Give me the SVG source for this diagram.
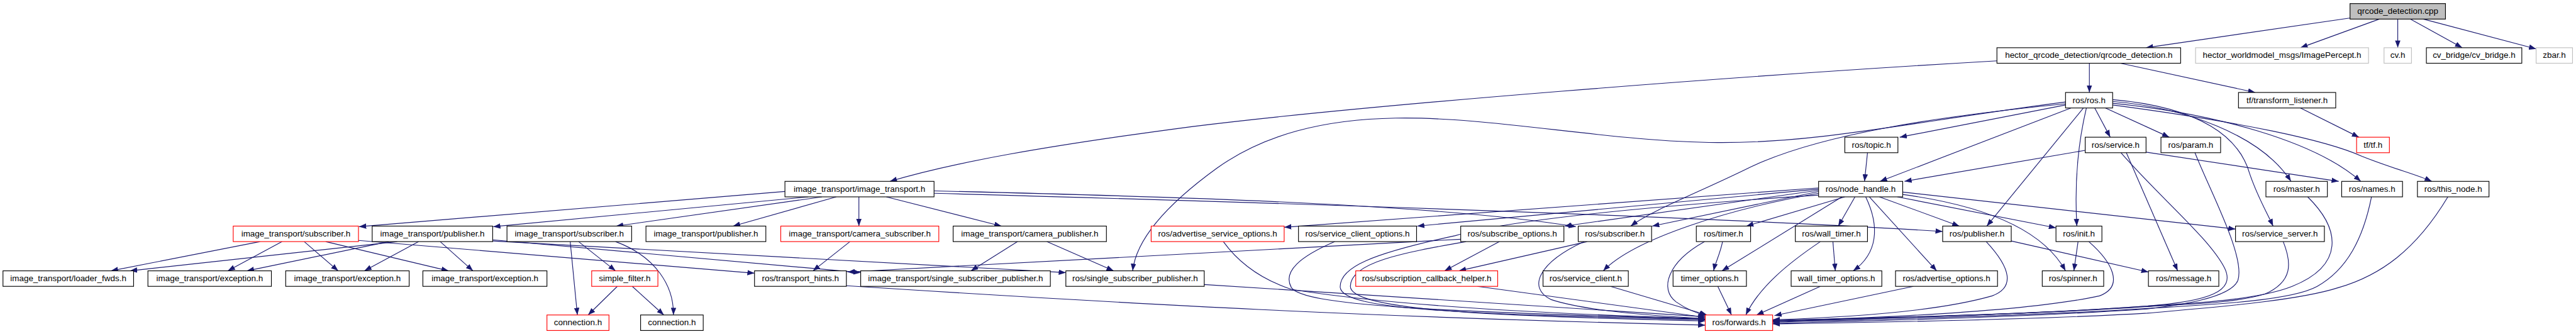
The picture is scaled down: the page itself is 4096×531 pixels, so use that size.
<svg xmlns="http://www.w3.org/2000/svg" width="4096" height="531" viewBox="0 0 4096 531">
<style>
.n rect{fill:#fff;stroke:#000;stroke-width:1.2}
.n.g rect{stroke:#bfbfbf}
.n.r rect{stroke:#f00}
.n.root rect{fill:#bfbfbf}
.n text{font-family:"Liberation Sans",Arial,sans-serif;font-size:14.2px;text-anchor:middle;fill:#000}
.e path{fill:none;stroke:#191970;stroke-width:1.2;marker-end:url(#a)}
</style>
<defs>
<marker id="a" markerWidth="12" markerHeight="9" refX="12" refY="4.5" orient="auto" markerUnits="userSpaceOnUse"><path d="M0,0 L12,4.5 L0,9 z" fill="#191970" stroke="none"/></marker>
</defs>
<rect width="4096" height="531" fill="#fff"/>
<g transform="scale(0.9484)">
<g id="edges" class="e">
<path d="M3941,30 L3598,80"/>
<path d="M3989,32 L3857,80"/>
<path d="M4020,32 L4020,80"/>
<path d="M4041,32 L4128,80"/>
<path d="M4063,32 L4252,82"/>
<path d="M3503,106 L3503,155"/>
<path d="M3555,106 L3781,155"/>
<path d="M3348,102 C2900,128 2300,175 2000,212 C1750,245 1600,272 1492,304"/>
<path d="M3857,181 L3955,230"/>
<path d="M3463,176 L3185,230"/>
<path d="M3512,181 L3538,230"/>
<path d="M3530,181 L3637,230"/>
<path d="M3472,181 L3152,304"/>
<path d="M3493,181 L3331,379"/>
<path d="M3498,181 C3484,240 3478,310 3482,379"/>
<path d="M3463,174 C3250,195 3050,225 2935,280 C2850,322 2770,352 2734,379"/>
<path d="M3463,171 C3200,205 3050,240 2880,239 C2700,238 2500,195 2340,198 C2220,200 2120,225 2040,282 C1960,340 1905,400 1899,454"/>
<path d="M3542,170 C3660,180 3790,225 3841,304"/>
<path d="M3542,173 C3710,190 3880,235 3958,304"/>
<path d="M3542,176 C3760,205 3900,235 3960,262 C4010,282 4050,292 4077,304"/>
<path d="M3542,167 C3690,180 3755,230 3772,292 C3785,330 3800,355 3811,379"/>
<path d="M3131,256 L3126,304"/>
<path d="M3496,252 L3193,304"/>
<path d="M3598,255 L3921,304"/>
<path d="M3565,256 L3651,454"/>
<path d="M3556,256 C3620,330 3705,400 3730,450 C3748,488 3705,505 3600,513 C3400,528 3100,535 2972,539"/>
<path d="M3680,256 C3705,320 3765,430 3752,470 C3740,500 3650,512 3600,518 C3400,532 3100,539 2972,542"/>
<path d="M3869,330 C3925,385 3930,445 3843,480 C3780,505 3650,510 3600,513 C3400,528 3100,535 2972,538"/>
<path d="M3976,330 C3962,400 3935,452 3885,480 C3840,505 3700,511 3600,517 C3400,530 3100,537 2972,540"/>
<path d="M4104,330 C4050,420 3990,462 3921,482 C3850,505 3700,516 3600,525 C3400,537 3100,541 2972,543"/>
<path d="M3828,405 C3842,440 3845,472 3797,493 C3740,510 3650,510 3600,514 C3400,528 3100,534 2972,537"/>
<path d="M3151,330 L3285,379"/>
<path d="M3181,330 L3447,382"/>
<path d="M3190,326 C3330,345 3425,385 3463,454"/>
<path d="M3190,322 L3748,384"/>
<path d="M3110,330 L3082,379"/>
<path d="M3093,330 L2928,379"/>
<path d="M3088,330 L2887,454"/>
<path d="M3128,330 C3152,380 3148,425 3107,454"/>
<path d="M3134,330 L3247,454"/>
<path d="M3049,315 L2153,381"/>
<path d="M3049,317 L2376,379"/>
<path d="M3049,319 L2623,379"/>
<path d="M3049,321 L2770,379"/>
<path d="M3049,324 C2900,350 2740,400 2688,454"/>
<path d="M3049,327 C2700,350 2520,372 2440,395 C2300,425 2245,448 2247,482 C2252,520 2450,526 2859,536"/>
<path d="M3330,405 C3372,450 3378,482 3340,496 C3250,522 3100,532 2972,536"/>
<path d="M3372,404 L3602,456"/>
<path d="M3484,405 L3477,454"/>
<path d="M3502,405 C3542,440 3562,480 3520,496 C3400,522 3150,533 2972,538"/>
<path d="M2888,405 C2884,425 2876,440 2873,454"/>
<path d="M2858,405 C2795,440 2782,485 2810,506 C2830,520 2848,526 2861,529"/>
<path d="M2880,480 L2903,528"/>
<path d="M3073,405 L3077,454"/>
<path d="M3052,405 C3000,440 2950,480 2927,528"/>
<path d="M3052,480 L2945,528"/>
<path d="M3208,480 L2975,529"/>
<path d="M2700,480 L2862,528"/>
<path d="M2477,480 L2859,532"/>
<path d="M2661,405 L2446,454"/>
<path d="M2514,405 L2422,454"/>
<path d="M2656,405 C2580,440 2560,482 2600,502 C2660,522 2780,530 2859,534"/>
<path d="M2458,405 C2350,424 2264,440 2264,480 C2264,520 2500,530 2859,538"/>
<path d="M2449,401 L1421,456"/>
<path d="M2238,405 C2180,430 2150,455 2165,482 C2185,512 2400,522 2859,535"/>
<path d="M2051,405 C2080,445 2120,470 2165,485 C2350,515 2650,528 2859,534"/>
<path d="M2019,477 L2859,531"/>
<path d="M1419,479 C1900,510 2300,532 2859,545"/>
<path d="M1706,405 L1628,454"/>
<path d="M1755,405 L1867,454"/>
<path d="M1425,405 L1363,454"/>
<path d="M1440,330 L1440,379"/>
<path d="M1486,330 L1679,379"/>
<path d="M1316,321 L602,380"/>
<path d="M1355,330 L827,380"/>
<path d="M1378,330 L1033,379"/>
<path d="M1402,330 L1229,379"/>
<path d="M1566,320 C1900,328 2400,340 2642,380"/>
<path d="M1566,324 C2000,336 2800,360 3257,388"/>
<path d="M436,405 L186,454"/>
<path d="M473,405 L382,454"/>
<path d="M510,405 L567,454"/>
<path d="M546,405 L752,454"/>
<path d="M601,403 L1265,458"/>
<path d="M666,405 L218,454"/>
<path d="M652,405 L414,454"/>
<path d="M702,405 L611,454"/>
<path d="M738,405 L793,454"/>
<path d="M826,402 L1443,457"/>
<path d="M826,404 L1787,457"/>
<path d="M956,405 L968,528"/>
<path d="M970,405 L1032,454"/>
<path d="M1032,405 C1100,430 1130,480 1129,528"/>
<path d="M1035,480 L986,528"/>
<path d="M1060,480 L1113,528"/>
</g>
<g id="n_root" class="n root"><rect x="3940" y="6" width="160" height="26"/><text x="4020" y="23.5">qrcode_detection.cpp</text></g>
<g id="n_qdh" class="n"><rect x="3348" y="80" width="308" height="26"/><text x="3502" y="97.5">hector_qrcode_detection/qrcode_detection.h</text></g>
<g id="n_ip" class="n g"><rect x="3681" y="80" width="290" height="26"/><text x="3826" y="97.5">hector_worldmodel_msgs/ImagePercept.h</text></g>
<g id="n_cv" class="n g"><rect x="3997" y="80" width="46" height="26"/><text x="4020" y="97.5">cv.h</text></g>
<g id="n_cvb" class="n"><rect x="4068" y="80" width="160" height="26"/><text x="4148" y="97.5">cv_bridge/cv_bridge.h</text></g>
<g id="n_zbar" class="n g"><rect x="4252" y="80" width="61" height="26"/><text x="4282.5" y="97.5">zbar.h</text></g>
<g id="n_ros" class="n"><rect x="3463" y="155" width="79" height="26"/><text x="3502.5" y="172.5">ros/ros.h</text></g>
<g id="n_tfl" class="n"><rect x="3753" y="155" width="163" height="26"/><text x="3834.5" y="172.5">tf/transform_listener.h</text></g>
<g id="n_topic" class="n"><rect x="3093" y="230" width="89" height="26"/><text x="3137.5" y="247.5">ros/topic.h</text></g>
<g id="n_service" class="n"><rect x="3496" y="230" width="102" height="26"/><text x="3547" y="247.5">ros/service.h</text></g>
<g id="n_param" class="n"><rect x="3623" y="230" width="100" height="26"/><text x="3673" y="247.5">ros/param.h</text></g>
<g id="n_tf" class="n r"><rect x="3951" y="230" width="55" height="26"/><text x="3978.5" y="247.5">tf/tf.h</text></g>
<g id="n_it" class="n"><rect x="1316" y="304" width="250" height="26"/><text x="1441" y="321.5">image_transport/image_transport.h</text></g>
<g id="n_nh" class="n"><rect x="3049" y="304" width="141" height="26"/><text x="3119.5" y="321.5">ros/node_handle.h</text></g>
<g id="n_master" class="n"><rect x="3799" y="304" width="103" height="26"/><text x="3850.5" y="321.5">ros/master.h</text></g>
<g id="n_names" class="n"><rect x="3926" y="304" width="102" height="26"/><text x="3977" y="321.5">ros/names.h</text></g>
<g id="n_thisnode" class="n"><rect x="4053" y="304" width="120" height="26"/><text x="4113" y="321.5">ros/this_node.h</text></g>
<g id="n_itsub_r" class="n r"><rect x="391" y="379" width="210" height="26"/><text x="496" y="396.5">image_transport/subscriber.h</text></g>
<g id="n_itpub1" class="n"><rect x="624" y="379" width="202" height="26"/><text x="725" y="396.5">image_transport/publisher.h</text></g>
<g id="n_itsub2" class="n"><rect x="850" y="379" width="209" height="26"/><text x="954.5" y="396.5">image_transport/subscriber.h</text></g>
<g id="n_itpub2" class="n"><rect x="1083" y="379" width="201" height="26"/><text x="1183.5" y="396.5">image_transport/publisher.h</text></g>
<g id="n_itcamsub" class="n r"><rect x="1309" y="379" width="265" height="26"/><text x="1441.5" y="396.5">image_transport/camera_subscriber.h</text></g>
<g id="n_itcampub" class="n"><rect x="1598" y="379" width="257" height="26"/><text x="1726.5" y="396.5">image_transport/camera_publisher.h</text></g>
<g id="n_aso" class="n r"><rect x="1930" y="379" width="223" height="26"/><text x="2041.5" y="396.5">ros/advertise_service_options.h</text></g>
<g id="n_sco" class="n"><rect x="2177" y="379" width="198" height="26"/><text x="2276" y="396.5">ros/service_client_options.h</text></g>
<g id="n_so" class="n"><rect x="2449" y="379" width="173" height="26"/><text x="2535.5" y="396.5">ros/subscribe_options.h</text></g>
<g id="n_sub" class="n"><rect x="2646" y="379" width="123" height="26"/><text x="2707.5" y="396.5">ros/subscriber.h</text></g>
<g id="n_timer" class="n"><rect x="2844" y="379" width="91" height="26"/><text x="2889.5" y="396.5">ros/timer.h</text></g>
<g id="n_wtimer" class="n"><rect x="3010" y="379" width="121" height="26"/><text x="3070.5" y="396.5">ros/wall_timer.h</text></g>
<g id="n_pub" class="n"><rect x="3257" y="379" width="115" height="26"/><text x="3314.5" y="396.5">ros/publisher.h</text></g>
<g id="n_init" class="n"><rect x="3447" y="379" width="77" height="26"/><text x="3485.5" y="396.5">ros/init.h</text></g>
<g id="n_ss" class="n"><rect x="3748" y="379" width="149" height="26"/><text x="3822.5" y="396.5">ros/service_server.h</text></g>
<g id="n_lf" class="n"><rect x="5" y="454" width="219" height="26"/><text x="114.5" y="471.5">image_transport/loader_fwds.h</text></g>
<g id="n_ex1" class="n"><rect x="248" y="454" width="207" height="26"/><text x="351.5" y="471.5">image_transport/exception.h</text></g>
<g id="n_ex2" class="n"><rect x="479" y="454" width="207" height="26"/><text x="582.5" y="471.5">image_transport/exception.h</text></g>
<g id="n_ex3" class="n"><rect x="709" y="454" width="208" height="26"/><text x="813" y="471.5">image_transport/exception.h</text></g>
<g id="n_sf" class="n r"><rect x="992" y="454" width="111" height="26"/><text x="1047.5" y="471.5">simple_filter.h</text></g>
<g id="n_th" class="n"><rect x="1265" y="454" width="154" height="26"/><text x="1342" y="471.5">ros/transport_hints.h</text></g>
<g id="n_itssp" class="n"><rect x="1443" y="454" width="318" height="26"/><text x="1602" y="471.5">image_transport/single_subscriber_publisher.h</text></g>
<g id="n_rssp" class="n"><rect x="1787" y="454" width="232" height="26"/><text x="1903" y="471.5">ros/single_subscriber_publisher.h</text></g>
<g id="n_sch" class="n r"><rect x="2273" y="454" width="238" height="26"/><text x="2392" y="471.5">ros/subscription_callback_helper.h</text></g>
<g id="n_sc" class="n"><rect x="2587" y="454" width="143" height="26"/><text x="2658.5" y="471.5">ros/service_client.h</text></g>
<g id="n_to" class="n"><rect x="2805" y="454" width="123" height="26"/><text x="2866.5" y="471.5">timer_options.h</text></g>
<g id="n_wto" class="n"><rect x="3003" y="454" width="152" height="26"/><text x="3079" y="471.5">wall_timer_options.h</text></g>
<g id="n_ao" class="n"><rect x="3178" y="454" width="171" height="26"/><text x="3263.5" y="471.5">ros/advertise_options.h</text></g>
<g id="n_spin" class="n"><rect x="3424" y="454" width="103" height="26"/><text x="3475.5" y="471.5">ros/spinner.h</text></g>
<g id="n_msg" class="n"><rect x="3602" y="454" width="118" height="26"/><text x="3661" y="471.5">ros/message.h</text></g>
<g id="n_conn_r" class="n r"><rect x="917" y="528" width="104" height="26"/><text x="969" y="545.5">connection.h</text></g>
<g id="n_conn" class="n"><rect x="1074" y="528" width="105" height="26"/><text x="1126.5" y="545.5">connection.h</text></g>
<g id="n_fwd" class="n r"><rect x="2859" y="528" width="113" height="26"/><text x="2915.5" y="545.5">ros/forwards.h</text></g>
</g>
</svg>
